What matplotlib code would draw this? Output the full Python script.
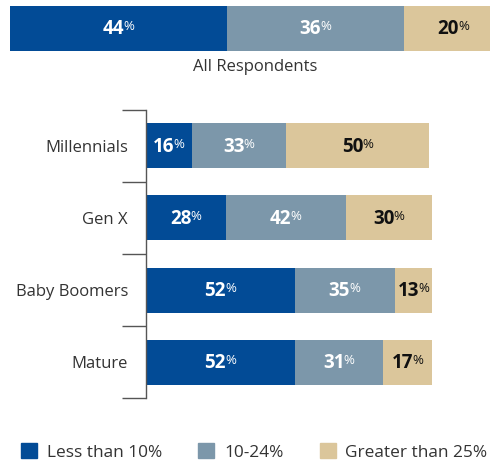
import numpy as np
import matplotlib.pyplot as plt
from matplotlib.patches import Patch
from matplotlib.transforms import offset_copy

plt.rcParams['font.family'] = ['Open Sans', 'DejaVu Sans']

series_names = ['Less than 10%', '10-24%', 'Greater than 25%']
colors = ['#024b96', '#7c97aa', '#dbc69b']
text_colors = ['white', 'white', '#111111']

all_respondents = [44, 36, 20]

categories = ['Millennials', 'Gen X', 'Baby Boomers', 'Mature']
less_10 = [16, 28, 52, 52]
mid_10_24 = [33, 42, 35, 31]
over_25 = [50, 30, 13, 17]

W, H = 490, 461
fig = plt.figure(figsize=(W / 100, H / 100), dpi=100)

NUM_SIZE, PCT_SIZE = 13.5, 9.5


def px_axes(left, top, width, height):
    return fig.add_axes([left / W, 1 - (top + height) / H, width / W, height / H])


def pct_label(ax, x, y, val, color):
    # bold number followed by a smaller, raised percent sign, centred as a group
    wn = 0.572 * NUM_SIZE * len(str(val))
    wp = 0.8 * PCT_SIZE
    dx = (wn - wp) / 2
    base = -0.714 * NUM_SIZE / 2 + 0.8
    tr_num = offset_copy(ax.transData, fig=fig, x=dx, y=base, units='points')
    tr_pct = offset_copy(ax.transData, fig=fig, x=dx - 0.6,
                         y=base + 0.714 * (NUM_SIZE - PCT_SIZE), units='points')
    ax.text(x, y, f'{val}', transform=tr_num, ha='right', va='baseline',
            fontsize=NUM_SIZE, fontweight='bold', color=color)
    ax.text(x, y, '%', transform=tr_pct, ha='left', va='baseline',
            fontsize=PCT_SIZE, color=color)


# overall bar
ax_top = px_axes(10, 6, 480, 45)
left = 0
for val, c, tc in zip(all_respondents, colors, text_colors):
    ax_top.barh(0, val, left=left, height=1, color=c)
    pct_label(ax_top, left + val / 2, 0, val, tc)
    left += val
ax_top.set_xlim(0, 480 / 4.93)
ax_top.set_ylim(-0.5, 0.5)
ax_top.axis('off')
fig.text(255 / W, 1 - 67 / H, 'All Respondents', ha='center', va='center',
         fontsize=12, color='#333333')

# generations
ax = px_axes(146, 110, 286, 288)
y = np.arange(len(categories))
lefts = np.zeros(len(categories))
for vals, c, tc in zip([less_10, mid_10_24, over_25], colors, text_colors):
    vals = np.array(vals)
    ax.barh(y, vals, left=lefts, height=0.625, color=c)
    for yi, l, v in zip(y, lefts, vals):
        pct_label(ax, l + v / 2, yi, v, tc)
    lefts += vals

ax.set_xlim(0, 100)
ax.set_ylim(3.5, -0.5)
for s in ['top', 'right', 'bottom']:
    ax.spines[s].set_visible(False)
ax.spines['left'].set_color('#555555')
ax.spines['left'].set_linewidth(1)
ax.set_xticks([])
ax.set_yticks(y)
ax.set_yticklabels(categories, fontsize=12, color='#333333')
ax.tick_params(axis='y', which='major', length=0, pad=13)
ax.set_yticks(np.arange(-0.5, 4, 1), minor=True)
ax.tick_params(axis='y', which='minor', length=17.3, width=1, color='#555555')

handles = [Patch(color=c, label=n) for c, n in zip(colors, series_names)]
fig.legend(handles=handles, loc='center left', bbox_to_anchor=(21 / W, 1 - 452 / H),
           ncol=3, frameon=False, fontsize=12.4, handlelength=0.93, handleheight=0.93,
           handletextpad=0.57, columnspacing=2.1, borderpad=0, borderaxespad=0,
           labelcolor='#333333')

fig.savefig('out.png', dpi=100)
